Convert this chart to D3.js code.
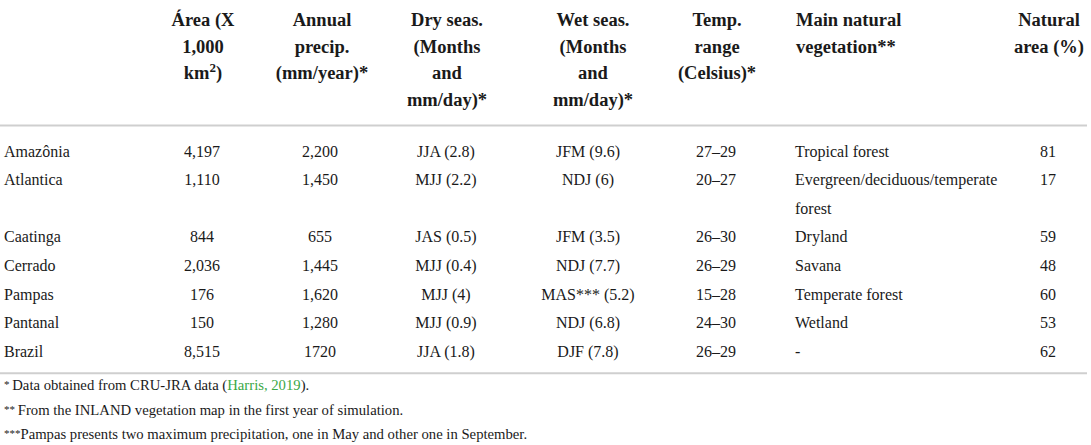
<!DOCTYPE html>
<html>
<head>
<meta charset="utf-8">
<script src="https://cdn.jsdelivr.net/npm/d3@7/dist/d3.min.js"></script>
<style>
  body { margin: 0; background: #fff; }
  svg text { font-family: "Liberation Serif", "DejaVu Serif", serif; fill: #1a1a1a; }
</style>
</head>
<body>
<div id="table"></div>
<script>
// table data
var biomes = ["Amazônia", "Atlantica", "Caatinga", "Cerrado", "Pampas", "Pantanal", "Brazil"];
var areaKm = ["4,197", "1,110", "844", "2,036", "176", "150", "8,515"];
var annualPrecip = ["2,200", "1,450", "655", "1,445", "1,620", "1,280", "1720"];
var drySeason = ["JJA (2.8)", "MJJ (2.2)", "JAS (0.5)", "MJJ (0.4)", "MJJ (4)", "MJJ (0.9)", "JJA (1.8)"];
var wetSeason = ["JFM (9.6)", "NDJ (6)", "JFM (3.5)", "NDJ (7.7)", "MAS*** (5.2)", "NDJ (6.8)", "DJF (7.8)"];
var tempRange = ["27–29", "20–27", "26–30", "26–29", "15–28", "24–30", "26–29"];
var vegetation = [["Tropical forest"], ["Evergreen/deciduous/temperate", "forest"], ["Dryland"], ["Savana"],
                  ["Temperate forest"], ["Wetland"], ["-"]];
var naturalArea = ["81", "17", "59", "48", "60", "53", "62"];

var columnKeys = ["biome", "area", "precip", "dry", "wet", "temp", "veg", "natural"];
var headerLines = [
    [],
    ["Área (X", "1,000", "km2)"],
    ["Annual", "precip.", "(mm/year)*"],
    ["Dry seas.", "(Months", "and", "mm/day)*"],
    ["Wet seas.", "(Months", "and", "mm/day)*"],
    ["Temp.", "range", "(Celsius)*"],
    ["Main natural", "vegetation**"],
    ["Natural", "area (%)"]
];
var footnotes = [
    ["* ", "Data obtained from CRU-JRA data (", "Harris, 2019", ")."],
    ["** ", "From the INLAND vegetation map in the first year of simulation.", "", ""],
    ["***", "Pampas presents two maximum precipitation, one in May and other one in September.", "", ""]
];

var width = 1091;
var height = 445;

var svg = d3.select("#table").append("svg")
    .attr("width", width)
    .attr("height", height);

var xHead = d3.scaleOrdinal().domain(columnKeys)
    .range([4, 203, 322, 447, 593, 717, 796, 1049]);
var xData = d3.scaleOrdinal().domain(columnKeys)
    .range([4, 202, 320, 446, 588, 716, 795, 1048]);
var anchor = d3.scaleOrdinal().domain(columnKeys)
    .range(["start", "middle", "middle", "middle", "middle", "middle", "start", "middle"]);

// header lines
var yHead = d3.scaleLinear().domain([0, 1]).range([26, 52.5]);

var heads = svg.append("g").attr("class", "header")
    .selectAll("g").data(columnKeys).enter().append("g");

heads.selectAll("text")
    .data(function(k, i){ return headerLines[i].map(function(t){ return {key: k, text: t}; }); })
    .enter().append("text")
    .attr("x", function(d){ return xHead(d.key); })
    .attr("y", function(d, j){ return yHead(j); })
    .attr("text-anchor", function(d){ return anchor(d.key); })
    .style("font-size", "18.5px")
    .style("font-weight", "bold")
    .each(function(d){
        var t = d3.select(this);
        if (d.text == "km2)") {
            t.append("tspan").text("km");
            t.append("tspan").attr("baseline-shift", "super").style("font-size", "13px").text("2");
            t.append("tspan").text(")");
        } else {
            t.text(d.text);
        }
    });

// rules
svg.append("line").attr("x1", 0).attr("x2", 1087).attr("y1", 125.5).attr("y2", 125.5)
    .attr("stroke", "#cfcfcf").attr("stroke-width", 2);

// rows
var rows = biomes.map(function(b, i){
    return {
        biome: [b], area: [areaKm[i]], precip: [annualPrecip[i]], dry: [drySeason[i]],
        wet: [wetSeason[i]], temp: [tempRange[i]], veg: vegetation[i], natural: [naturalArea[i]]
    };
});
var lineStart = [];
var acc = 0;
rows.forEach(function(r){ lineStart.push(acc); acc += r.veg.length; });

var yRow = d3.scaleLinear().domain([0, 1]).range([156.5, 185.1]);

var rowGroups = svg.append("g").attr("class", "rows")
    .selectAll("g").data(rows).enter().append("g");

rowGroups.each(function(r, i){
    var g = d3.select(this);
    columnKeys.forEach(function(k){
        r[k].forEach(function(t, j){
            g.append("text")
                .attr("x", xData(k))
                .attr("y", yRow(lineStart[i] + j))
                .attr("text-anchor", anchor(k))
                .style("font-size", "16px")
                .text(t);
        });
    });
});

var bottomY = yRow(acc - 1) + 16.5;
svg.append("line").attr("x1", 0).attr("x2", 1087).attr("y1", bottomY).attr("y2", bottomY)
    .attr("stroke", "#cfcfcf").attr("stroke-width", 2);

// footnotes
var yFoot = d3.scaleLinear().domain([0, 1]).range([bottomY + 17, bottomY + 41.5]);

svg.append("g").attr("class", "footnotes")
    .selectAll("text").data(footnotes).enter().append("text")
    .attr("x", 4)
    .attr("y", function(d, i){ return yFoot(i); })
    .style("font-size", "14.7px")
    .each(function(d){
        var t = d3.select(this);
        t.append("tspan").style("font-size", "11px").attr("dy", "-2").text(d[0]);
        t.append("tspan").attr("dy", "2").text(d[1]);
        if (d[2]) {
            t.append("tspan").style("fill", "#3aa845").text(d[2]);
            t.append("tspan").text(d[3]);
        }
    });
</script>
</body>
</html>
